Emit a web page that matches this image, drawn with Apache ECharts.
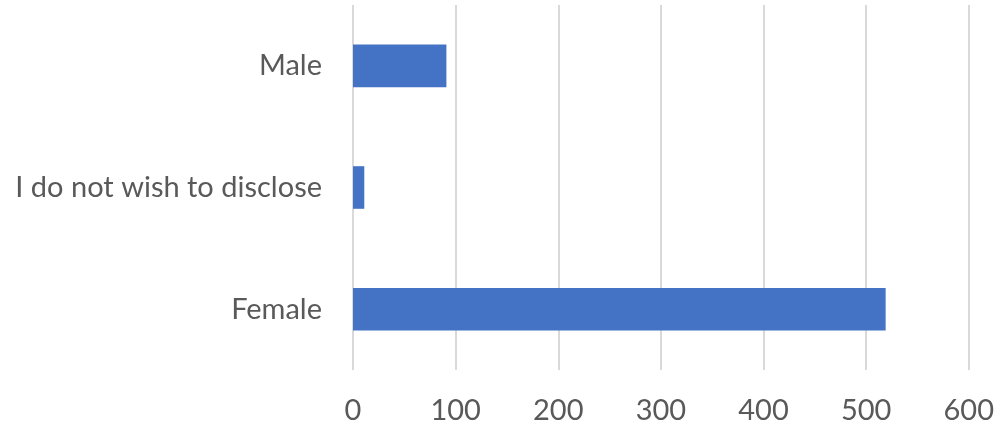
<!DOCTYPE html>
<html>
<head>
<meta charset="utf-8">
<script src="https://cdn.jsdelivr.net/npm/echarts@6/dist/echarts.min.js"></script>
<style>
  html, body { margin: 0; padding: 0; background: #ffffff; }
  #chart { width: 997px; height: 429px; }
</style>
</head>
<body>
<div id="chart"></div>
<script>
// Respondents by gender (bottom to top on the category axis)
const categories = ['Female', 'I do not wish to disclose', 'Male'];
const counts = [519, 11, 91];
const xTicks = { min: 0, max: 600, interval: 100 };

const chart = echarts.init(document.getElementById('chart'), null, { renderer: 'canvas' });

const labelFont = { fontFamily: 'Lato', fontSize: 29, color: '#595959' };

chart.setOption({
  animation: false,
  backgroundColor: '#ffffff',
  grid: { left: 353, right: 27, top: 5, bottom: 59, containLabel: false },
  xAxis: {
    type: 'value',
    min: xTicks.min,
    max: xTicks.max,
    interval: xTicks.interval,
    axisLine: { show: false },
    axisTick: { show: false },
    splitLine: { show: true, lineStyle: { color: '#d9d9d9', width: 2 } },
    axisLabel: Object.assign({ margin: 26 }, labelFont)
  },
  yAxis: {
    type: 'category',
    data: categories,
    axisLine: { show: false },
    axisTick: { show: false },
    axisLabel: Object.assign({ margin: 31 }, labelFont)
  },
  series: [{
    type: 'bar',
    data: counts,
    barCategoryGap: '65%',
    itemStyle: { color: '#4472C4' }
  }]
});
</script>
</body>
</html>
